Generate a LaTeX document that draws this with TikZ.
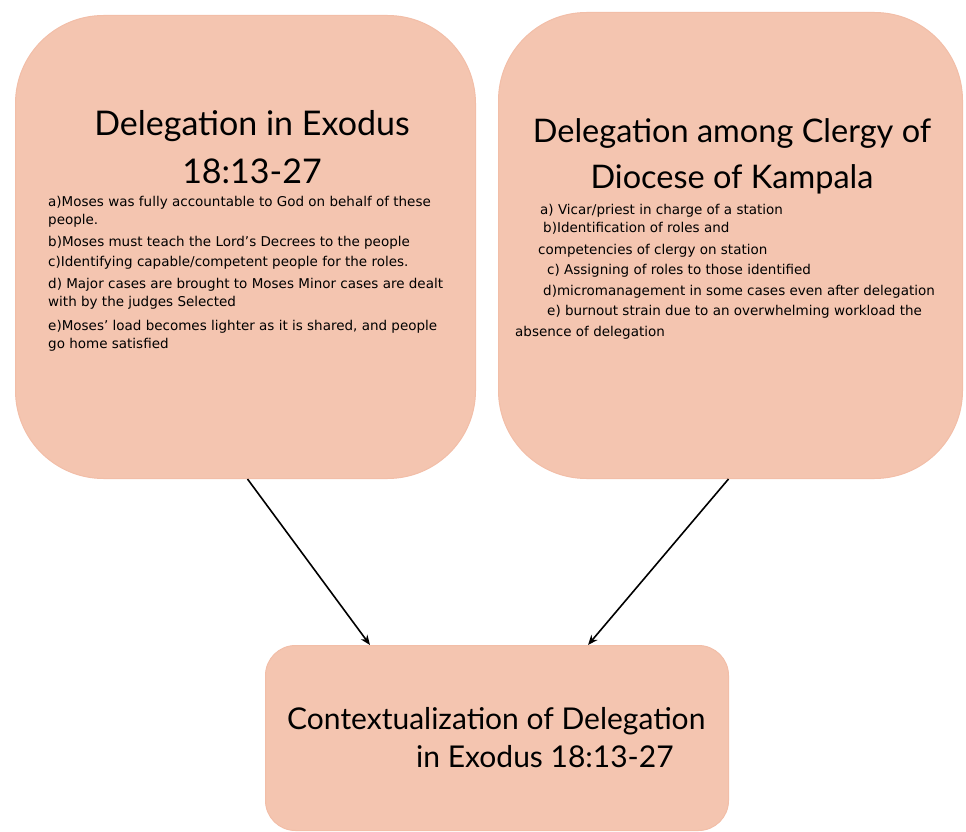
\documentclass[tikz,border=0pt]{standalone}
\usepackage{fontspec}
\setmainfont{DejaVu Sans}
\newfontfamily\titlefont{Lato}
\usetikzlibrary{arrows.meta}
\definecolor{boxfill}{RGB}{244,197,176}
\definecolor{boxedge}{RGB}{242,190,168}
\begin{document}
\begin{tikzpicture}[x=1pt,y=-1pt,
  bigbox/.style={draw=boxedge, line width=1pt, fill=boxfill, rounded corners=88pt, anchor=north west, inner sep=0pt},
  headtext/.style={font=\titlefont\fontsize{33}{48}\selectfont, align=center, inner sep=0pt},
  itemtext/.style={font=\fontsize{13.5}{18}\selectfont, align=left, inner sep=0pt, anchor=north west},
  linkarrow/.style={line width=1.6pt, -{Stealth[length=10pt,width=8pt]}}]
\useasboundingbox (0,0) rectangle (966,832);
% the two source boxes
\node (exodus) [bigbox, minimum width=460pt, minimum height=463pt] at (15,15) {};
\node (kampala) [bigbox, minimum width=464pt, minimum height=466pt] at (498,12) {};
% the target box
\node (context) [bigbox, rounded corners=30pt, minimum width=463pt, minimum height=185pt] at (265,645) {};

\node (exodushead) [headtext, font=\titlefont\fontsize{34}{48}\selectfont] at (252,147) {Delegation in Exodus\\18:13-27};
\node (kampalahead) [headtext, font=\titlefont\fontsize{32.5}{46}\selectfont] at (732,156) {Delegation among Clergy of\\Diocese of Kampala};

\node (exodusitems) [itemtext] at (48,196) {a)Moses was fully accountable to God on behalf of these\\people.\\[4pt]
b)Moses must teach the Lord's Decrees to the people\\[2pt]
c)Identifying capable/competent people for the roles.\\[4pt]
d) Major cases are brought to Moses Minor cases are dealt\\with by the judges Selected\\[6pt]
e)Moses' load becomes lighter as it is shared, and people\\go home satisfied};

\node (kampalaitems) [itemtext] at (515,204) {\hspace{25pt}a) Vicar/priest in charge of a station\\
\hspace{28pt}b)Identification of roles and\\[4pt]
\hspace{23pt}competencies of clergy on station\\[2pt]
\hspace{32pt}c) Assigning of roles to those identified\\[3pt]
\hspace{28pt}d)micromanagement in some cases even after delegation\\[2pt]
\hspace{32pt}e) burnout strain due to an overwhelming workload the\\[3pt]
absence of delegation};

\node (contexthead) [inner sep=0pt, anchor=north west, align=left, font=\titlefont\fontsize{30}{38}\selectfont] at (287,707) {Contextualization of Delegation\\\hspace{129pt}in Exodus 18:13-27};

\draw [linkarrow] ([xshift=2pt]exodus.south) -- ([xshift=105pt]context.north west);
\draw [linkarrow] ([xshift=-2pt]kampala.south) -- ([xshift=323pt]context.north west);
\end{tikzpicture}
\end{document}
